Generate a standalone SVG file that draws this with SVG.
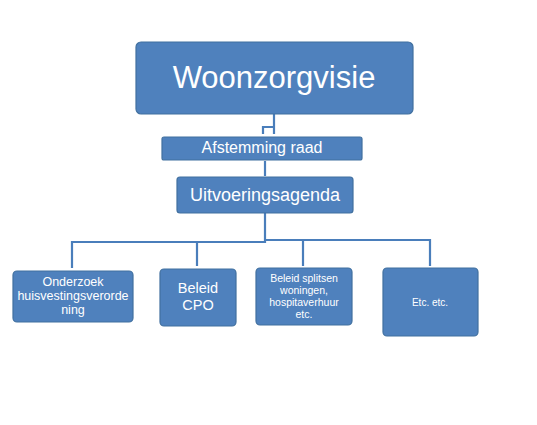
<svg xmlns="http://www.w3.org/2000/svg" width="537" height="425" viewBox="0 0 537 425">
<style>
.box{fill:#4F81BD;stroke:#41709F;stroke-width:1.2}
.t{fill:#FFFFFF;font-family:"Liberation Sans",Arial,sans-serif;text-anchor:middle}
.c{fill:none;stroke:#4A7EBB;stroke-width:2.2}
</style>
<rect width="537" height="425" fill="#FFFFFF"/>
<g id="connectors">
<path class="c" d="M274,114 V134 M274,127 H263 V134"/>
<path class="c" d="M265,161 V176"/>
<path class="c" d="M265,213 V242 H72 V268"/>
<path class="c" d="M197,242 V266"/>
<path class="c" d="M265,240 H430 V266"/>
<path class="c" d="M303,240 V266"/>
</g>
<g id="woonzorgvisie">
<rect class="box" x="136" y="42" width="277" height="72" rx="5"/>
<text class="t" x="274" y="88" font-size="31">Woonzorgvisie</text>
</g>
<g id="afstemming-raad">
<rect class="box" x="162" y="137" width="200" height="23" rx="2"/>
<text class="t" x="262" y="153" font-size="16">Afstemming raad</text>
</g>
<g id="uitvoeringsagenda">
<rect class="box" x="177" y="177" width="176" height="36" rx="3"/>
<text class="t" x="265" y="201" font-size="18">Uitvoeringsagenda</text>
</g>
<g id="onderzoek">
<rect class="box" x="13" y="271" width="120" height="51" rx="4"/>
<text class="t" x="73" font-size="12.5"><tspan x="73" y="286">Onderzoek</tspan><tspan x="73" y="300">huisvestingsverorde</tspan><tspan x="73" y="314">ning</tspan></text>
</g>
<g id="beleid-cpo">
<rect class="box" x="160" y="269" width="76" height="57" rx="4"/>
<text class="t" x="198" font-size="14.5"><tspan x="198" y="293">Beleid</tspan><tspan x="198" y="310">CPO</tspan></text>
</g>
<g id="beleid-splitsen">
<rect class="box" x="256" y="268" width="96" height="57" rx="4"/>
<text class="t" x="304" font-size="10.5"><tspan x="304" y="282">Beleid splitsen</tspan><tspan x="304" y="294">woningen,</tspan><tspan x="304" y="306">hospitaverhuur</tspan><tspan x="304" y="318">etc.</tspan></text>
</g>
<g id="etc">
<rect class="box" x="383" y="268" width="95" height="68" rx="4"/>
<text class="t" x="430" y="306" font-size="10">Etc. etc.</text>
</g>
</svg>
